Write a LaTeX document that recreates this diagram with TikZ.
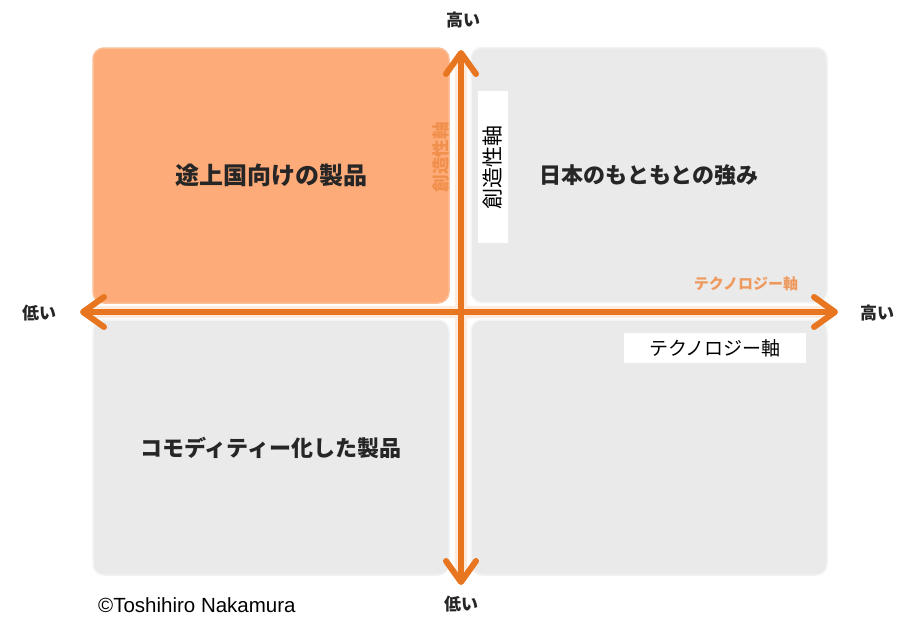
\documentclass[tikz,border=0pt]{standalone}
\usepackage{fontspec}
\setmainfont{Liberation Sans}
\newfontfamily\jp{Noto Sans CJK JP}
\usetikzlibrary{arrows.meta}
\definecolor{quadorange}{HTML}{FDAB78}
\definecolor{quadorangerim}{HTML}{FBBE96}
\definecolor{quadgrey}{HTML}{EAEAEA}
\definecolor{quadgreyrim}{HTML}{F3F3F3}
\definecolor{axisorange}{HTML}{E8751F}
\definecolor{halocol}{HTML}{FFEBDC}
\definecolor{labelorange}{HTML}{EF8C46}
\definecolor{darktext}{HTML}{262626}
\begin{document}
\begin{tikzpicture}[x=1pt,y=-1pt,
  quad/.style={rounded corners=11pt, line width=1.5pt, inner sep=0pt,
    minimum width=356pt, minimum height=255pt,
    font=\jp\bfseries\fontsize{22}{22}\selectfont, text=darktext},
  greyquad/.style={quad, fill=quadgrey, draw=quadgreyrim},
  orangequad/.style={quad, fill=quadorange, draw=quadorangerim},
  axisline/.style={axisorange, line width=6pt,
    {Straight Barb[length=21pt,width=30pt,round]}-{Straight Barb[length=21pt,width=30pt,round]}},
  haloline/.style={halocol, line width=12pt, shorten >=14pt, shorten <=14pt},
  endlbl/.style={font=\jp\bfseries\fontsize{17}{17}\selectfont, text=darktext, inner sep=0pt},
  axisname/.style={font=\jp\bfseries\fontsize{15}{15}\selectfont, text=labelorange, inner sep=0pt, opacity=0.85},
  whitebox/.style={fill=white, inner sep=0pt, text=black}
]
\useasboundingbox (0,0) rectangle (905,627);
\fill[white] (0,0) rectangle (905,627);

% quadrants
\node[orangequad, font=\jp\bfseries\fontsize{24}{24}\selectfont] (tl) at (271,175.5) {途上国向けの製品};
\node[greyquad] (tr) at (649,175) {日本のもともとの強み};
\node[greyquad] (bl) at (271,447.5) {コモディティー化した製品};
\node[greyquad] (br) at (649,447.5) {};

% axes
\coordinate (vtop) at (461,50);
\coordinate (vbot) at (461,585);
\coordinate (hleft) at (80,312);
\coordinate (hright) at (838,312);
\draw[haloline] (vtop) -- (vbot);
\draw[haloline] (hleft) -- (hright);
\draw[axisline] (vtop) -- (vbot);
\draw[axisline] (hleft) -- (hright);

% axis end labels
\node[endlbl] (ytop) at (463,20) {高い};
\node[endlbl] (ybot) at (461,604) {低い};
\node[endlbl] (xleft) at (39,313) {低い};
\node[endlbl] (xright) at (877,313) {高い};

% small orange axis names
\node[axisname, rotate=90, font=\jp\bfseries\fontsize{17.5}{17.5}\selectfont] (yname) at (441,157) {創造性軸};
\node[axisname] (xname) at (746,284) {テクノロジー軸};

% white boxes
\node[whitebox, rotate=90, minimum width=152pt, minimum height=30pt,
  font=\jp\fontsize{21}{21}\selectfont] (ybox) at (493,167) {創造性軸};
\node[whitebox, minimum width=182pt, minimum height=30pt,
  font=\jp\fontsize{19}{19}\selectfont] (xbox) at (715,348) {テクノロジー軸};

% copyright
\node[anchor=west, inner sep=0pt, font=\fontsize{20.5}{20.5}\selectfont, text=black] (copy) at (98,605) {©Toshihiro Nakamura};
\end{tikzpicture}
\end{document}
